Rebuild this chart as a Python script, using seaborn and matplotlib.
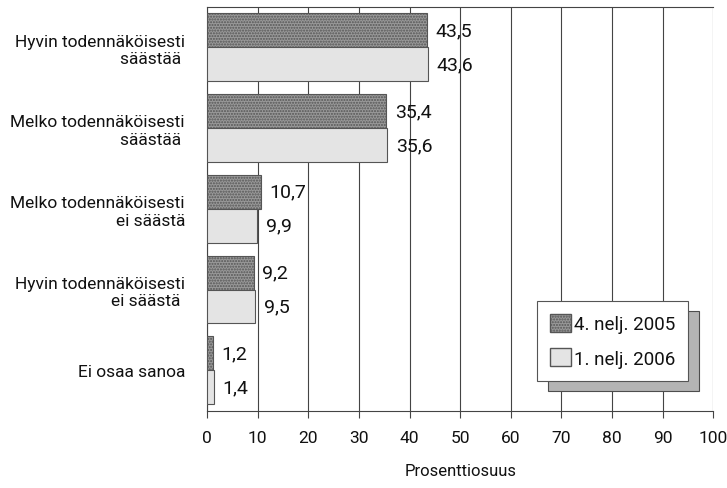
import matplotlib
matplotlib.use("Agg")
import matplotlib.pyplot as plt
from matplotlib.patches import Patch
import pandas as pd
import seaborn as sns

categories = ["Hyvin todennäköisesti\nsäästää ", "Melko todennäköisesti\nsäästää ",
              "Melko todennäköisesti\nei säästä", "Hyvin todennäköisesti\nei säästä ",
              "Ei osaa sanoa"]
series = ["4. nelj. 2005", "1. nelj. 2006"]
q4_2005 = [43.5, 35.4, 10.7, 9.2, 1.2]
q1_2006 = [43.6, 35.6, 9.9, 9.5, 1.4]
xticks = list(range(0, 101, 10))

df = pd.DataFrame({
    "kategoria": categories * 2,
    "sarja": [series[0]] * 5 + [series[1]] * 5,
    "arvo": q4_2005 + q1_2006,
})

sns.set_style("white")
plt.rcParams["font.family"] = ["Roboto", "DejaVu Sans"]
plt.rcParams["hatch.color"] = "#707070"
plt.rcParams["text.color"] = "#111111"

fig, ax = plt.subplots(figsize=(7.27, 4.89), dpi=100)
fig.subplots_adjust(left=0.285, right=0.981, top=0.984, bottom=0.158)

colors = ["#999999", "#e4e4e4"]
sns.barplot(data=df, y="kategoria", x="arvo", hue="sarja", hue_order=series,
            palette=colors, orient="h", width=0.84, ax=ax, legend=False,
            edgecolor="#555555", linewidth=0.8, zorder=3)

for i, cont in enumerate(ax.containers):
    for bar in cont:
        bar.set_hatch("......" if i == 0 else "")
    ax.bar_label(cont, labels=[f"{v:.1f}".replace(".", ",") for v in cont.datavalues],
                 padding=6, fontsize=14, color="#111111")

ax.set_xlim(0, 100)
ax.set_ylim(4.5, -0.5)
ax.set_xticks(xticks)
ax.set_xticklabels([str(t) for t in xticks], fontsize=12.5, color="#111111")
ax.set_yticklabels(categories, fontsize=12.5, ha="right", color="#111111", linespacing=1.2)
ax.tick_params(axis="y", length=0, pad=16)
ax.tick_params(axis="x", length=5, width=0.8, direction="out", color="#444444", bottom=True, pad=9)
ax.grid(axis="x", color="#444444", linewidth=0.8, zorder=0)
ax.set_axisbelow(True)
for s in ["top", "left", "bottom"]:
    ax.spines[s].set_visible(True)
    ax.spines[s].set_color("#444444")
    ax.spines[s].set_linewidth(0.8)
ax.spines["right"].set_visible(False)
ax.set_ylabel("")
ax.set_xlabel("Prosenttiosuus", fontsize=12, labelpad=13, color="#111111")

handles = [Patch(facecolor=colors[0], edgecolor="#555555", hatch="......"),
           Patch(facecolor=colors[1], edgecolor="#555555")]
leg = ax.legend(handles, series, loc="lower right", bbox_to_anchor=(0.951, 0.074),
                borderaxespad=0, fontsize=13.5, frameon=True, fancybox=False,
                shadow={"ox": 7.5, "oy": -7.5, "facecolor": "#b4b4b4", "alpha": 1},
                edgecolor="#555555", framealpha=1, handlelength=1.1, handleheight=1.1,
                handletextpad=0.15, labelspacing=0.8, borderpad=0.7)
leg.get_frame().set_linewidth(0.8)

fig.savefig("out.png", dpi=100)
